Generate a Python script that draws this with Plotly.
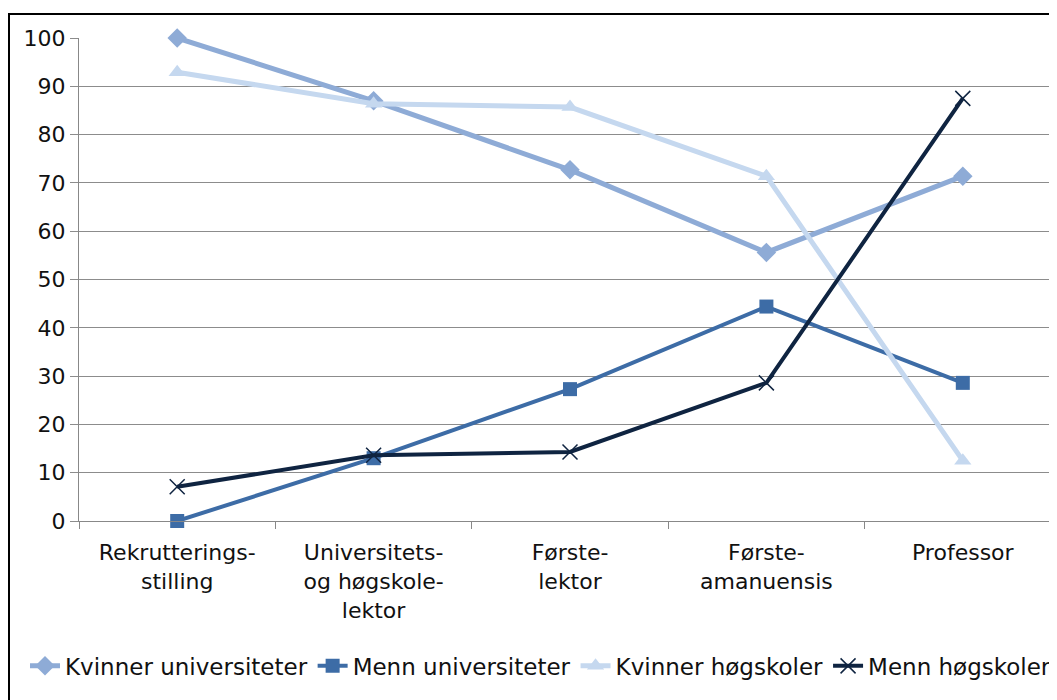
import plotly.graph_objects as go

categories = ["Rekrutterings-<br>stilling", "Universitets-<br>og høgskole-<br>lektor",
              "Første-<br>lektor", "Første-<br>amanuensis", "Professor"]
kvinner_univ = [100, 87.0, 72.7, 55.6, 71.4]
menn_univ = [0, 13.0, 27.3, 44.4, 28.6]
kvinner_hogsk = [92.9, 86.4, 85.7, 71.4, 12.5]
menn_hogsk = [7.1, 13.6, 14.3, 28.6, 87.5]

font = "DejaVu Sans, Verdana, sans-serif"

fig = go.Figure()
fig.add_trace(go.Scatter(x=categories, y=kvinner_univ, name="Kvinner universiteter",
                         mode="lines+markers", line=dict(color="#8eabd6", width=5),
                         marker=dict(symbol="diamond", size=15, color="#8eabd6")))
fig.add_trace(go.Scatter(x=categories, y=menn_univ, name="Menn universiteter",
                         mode="lines+markers", line=dict(color="#3d6ca6", width=4),
                         marker=dict(symbol="square", size=14, color="#3d6ca6")))
fig.add_trace(go.Scatter(x=categories, y=kvinner_hogsk, name="Kvinner høgskoler",
                         mode="lines+markers", line=dict(color="#c5d8ef", width=5),
                         marker=dict(symbol="triangle-up", size=15, color="#c5d8ef")))
fig.add_trace(go.Scatter(x=categories, y=menn_hogsk, name="Menn høgskoler",
                         mode="lines+markers", line=dict(color="#0f2441", width=4),
                         marker=dict(symbol="x-thin-open", size=15,
                                     line=dict(color="#0f2441", width=1.5))))
fig.update_traces(cliponaxis=False)

# the page adds an 8px body margin, so everything is shifted up/left by 8px
fig.update_layout(
    width=1057, height=700,
    margin=dict(l=71, r=4, t=30, b=187),
    paper_bgcolor="white", plot_bgcolor="white",
    font=dict(family=font, size=22, color="#111111"),
    showlegend=True,
    legend=dict(orientation="h", x=(17 - 71) / 982, xanchor="left", y=-0.30,
                yanchor="middle", font=dict(size=23), itemwidth=30,
                tracegroupgap=0, bgcolor="rgba(0,0,0,0)"),
    xaxis=dict(type="category", showgrid=False, showline=True, linecolor="#888888",
               linewidth=1, ticks="outside", tickson="boundaries", ticklen=7,
               tickcolor="#888888", range=[-0.5, 4.5], tickfont=dict(size=22),
               ticklabelstandoff=12),
    yaxis=dict(range=[0, 100], dtick=10, showgrid=True, gridcolor="#8c8c8c",
               gridwidth=1, showline=True, linecolor="#888888", ticks="outside",
               ticklen=8, tickcolor="#8c8c8c", zeroline=False,
               tickfont=dict(size=22)),
    shapes=[dict(type="rect", xref="paper", yref="paper",
                 x0=(1 - 71) / 982, x1=1.1, y0=-0.5, y1=1 + (30 - 6) / 483,
                 line=dict(color="black", width=2), layer="below")],
)

fig.write_html("out.html")
